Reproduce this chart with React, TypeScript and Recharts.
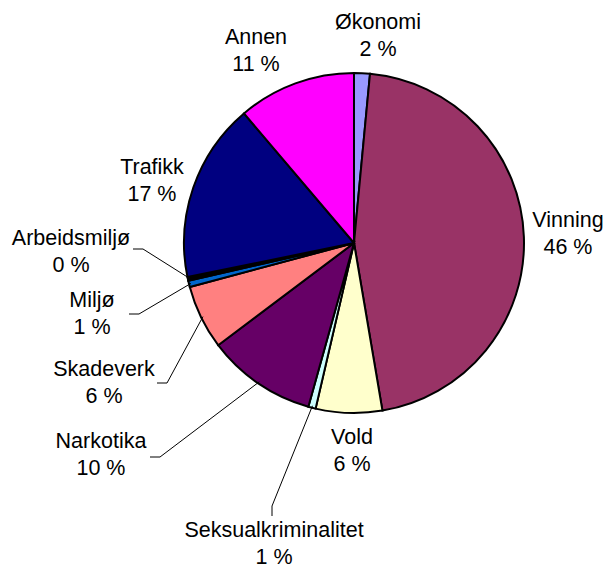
import { Cell, Pie, PieChart } from "recharts";

const CATEGORIES = [
  "Økonomi",
  "Vinning",
  "Vold",
  "Seksualkriminalitet",
  "Narkotika",
  "Skadeverk",
  "Miljø",
  "Arbeidsmiljø",
  "Trafikk",
  "Annen",
];
const SHARES = [1.5, 45.8, 6.3, 0.7, 10.4, 6.1, 0.6, 0.35, 17.0, 11.2];
const COLORS = [
  "#9999FF",
  "#993366",
  "#FFFFCC",
  "#CCFFFF",
  "#660066",
  "#FF8080",
  "#0066CC",
  "#000000",
  "#000080",
  "#FF00FF",
];

// label placement: text centre x, first line y, and optional leader path (stub points)
const LABEL_POS: { x: number; y: number; stub?: [number, number][] }[] = [
  { x: 378, y: 22 },
  { x: 568, y: 220 },
  { x: 352, y: 437 },
  { x: 274, y: 530, stub: [[272, 516], [272, 506]] },
  { x: 101, y: 441, stub: [[150, 457], [160, 457]] },
  { x: 104, y: 369, stub: [[157, 383], [167, 383]] },
  { x: 92, y: 300, stub: [[129, 314], [139, 314]] },
  { x: 71, y: 238, stub: [[133, 249], [143, 249]] },
  { x: 152, y: 167 },
  { x: 256, y: 37 },
];

const data = CATEGORIES.map((name, i) => ({ name, value: SHARES[i] }));
const RAD = Math.PI / 180;
const FONT = "'Liberation Sans', Arial, sans-serif";

function SliceLabel(props: any) {
  const { cx, cy, midAngle, outerRadius, index, percent, name } = props;
  const pos = LABEL_POS[index];
  let line = null;
  if (pos.stub) {
    const ex = cx + (outerRadius - 2) * Math.cos(-midAngle * RAD);
    const ey = cy + (outerRadius - 2) * Math.sin(-midAngle * RAD);
    const pts = [...pos.stub, [ex, ey]].map((p) => p.join(",")).join(" ");
    line = <polyline points={pts} fill="none" stroke="#000" strokeWidth={1} />;
  }
  return (
    <g>
      {line}
      <text x={pos.x} y={pos.y} textAnchor="middle" dominantBaseline="central"
        fill="#000" fontSize={21.5} fontFamily={FONT}>
        {name}
      </text>
      <text x={pos.x} y={pos.y + 27} textAnchor="middle" dominantBaseline="central"
        fill="#000" fontSize={21.5} fontFamily={FONT}>
        {`${Math.round(percent * 100)} %`}
      </text>
    </g>
  );
}

export default function App() {
  return (
    <div style={{ position: "absolute", left: 0, top: 0, background: "#fff" }}>
      <PieChart width={604} height={568} margin={{ top: 0, right: 0, bottom: 0, left: 0 }}>
        <Pie
          data={data}
          dataKey="value"
          nameKey="name"
          cx={354}
          cy={243}
          outerRadius={170}
          startAngle={90}
          endAngle={-270}
          stroke="#000"
          strokeWidth={2}
          label={SliceLabel}
          labelLine={false}
          isAnimationActive={false}
        >
          {data.map((d, i) => (
            <Cell key={d.name} fill={COLORS[i]} />
          ))}
        </Pie>
      </PieChart>
    </div>
  );
}
